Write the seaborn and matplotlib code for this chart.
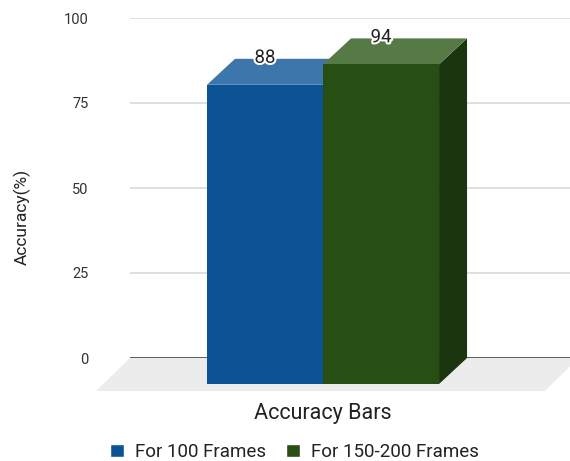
import matplotlib
matplotlib.use("Agg")
import matplotlib.pyplot as plt
import matplotlib.transforms as mtransforms
import matplotlib.patheffects as pe
from matplotlib.patches import Polygon
import pandas as pd
import seaborn as sns

# ---- data ----
categories = ["Accuracy Bars"]
series = ["For 100 Frames", "For 150-200 Frames"]
accuracy = [88, 94]
y_ticks = [0, 25, 50, 75, 100]

# face colours for the pseudo-3D boxes
front_colors = ["#0b5394", "#274e13"]
top_colors = ["#3c76aa", "#557a46"]
side_colors = ["#083b6b", "#1b350f"]

sns.set_theme(style="white")
plt.rcParams["font.family"] = ["Roboto", "DejaVu Sans"]

DPI = 100
W, H = 570, 461
DX, DY = 28, 26          # depth of the boxes, in pixels
FLOOR_DX, FLOOR_DY = 34, 33

fig = plt.figure(figsize=(W / DPI, H / DPI), dpi=DPI, facecolor="white")
# back wall: gridlines and value axis live here
ax = fig.add_axes([130 / W, 103 / H, 440 / W, 340 / H])

df = pd.DataFrame({
    "category": categories * len(series),
    "series": series,
    "accuracy": accuracy,
})
sns.barplot(data=df, x="category", y="accuracy", hue="series",
            palette=front_colors, saturation=1, width=0.8,
            errorbar=None, ax=ax)
bars = list(ax.patches)

ax.set_xlim(-0.762, 0.755)
ax.set_ylim(0, 100)

# legend handles from seaborn, re-laid out below the chart
leg = ax.get_legend()
handles = leg.legend_handles
labels = [t.get_text() for t in leg.get_texts()]
leg.remove()

# pixel depth expressed in data units
p0 = ax.transData.transform((0, 0))
p1 = ax.transData.transform((1, 1))
ddx = DX / (p1[0] - p0[0])
ddy = DY / (p1[1] - p0[1])

# floor of the box
floor = Polygon([(0, 0), (1.02, 0),
                 (1.02 - FLOOR_DX / 440, -FLOOR_DY / 340),
                 (-FLOOR_DX / 440, -FLOOR_DY / 340)],
                closed=True, transform=ax.transAxes, facecolor="#ececec",
                edgecolor="none", clip_on=False, zorder=0.5)
ax.add_patch(floor)

ax.axhline(0, color="#3a3a3a", lw=1.1, zorder=1.5)

for i, (bar, val) in enumerate(zip(bars, accuracy)):
    x0 = bar.get_x()
    w = bar.get_width()
    h = bar.get_height()
    z = 2 + i
    side = Polygon([(x0 + w - ddx, -ddy), (x0 + w, 0), (x0 + w, h),
                    (x0 + w - ddx, h - ddy)], closed=True,
                   facecolor=side_colors[i], edgecolor="none",
                   clip_on=False, zorder=z)
    top = Polygon([(x0 - ddx, h - ddy), (x0 + w - ddx, h - ddy),
                   (x0 + w, h), (x0, h)], closed=True,
                  facecolor=top_colors[i], edgecolor="none",
                  clip_on=False, zorder=z)
    ax.add_patch(side)
    ax.add_patch(top)
    # front face: the seaborn bar pushed forward
    bar.set_x(x0 - ddx)
    bar.set_y(-ddy)
    bar.set_clip_on(False)
    bar.set_edgecolor("none")
    bar.set_linewidth(0)
    bar.set_zorder(z + 0.5)

    lab_tr = ax.transData + mtransforms.ScaledTranslation(0, -4 / DPI, fig.dpi_scale_trans)
    ax.text(x0 + w / 2 - ddx, val, f"{val}", transform=lab_tr,
            ha="center", va="baseline", fontsize=13.4, color="#222222",
            zorder=10, clip_on=False,
            path_effects=[pe.withStroke(linewidth=3, foreground="white")])

# axes styling
for s in ax.spines.values():
    s.set_visible(False)
ax.set_yticks(y_ticks)
ax.yaxis.grid(True, color="#d9d9d9", lw=1.2)
ax.xaxis.grid(False)
ax.set_axisbelow(True)
ax.tick_params(axis="y", length=0, pad=30, labelsize=10.5, labelcolor="#333333")
ax.set_xticks([])
ax.set_xlabel("")
ax.set_ylabel("")

# category label, aligned with the front of the boxes
front_x = ax.transData + mtransforms.ScaledTranslation(-DX / DPI, 0, fig.dpi_scale_trans)
cat_tr = mtransforms.blended_transform_factory(front_x, fig.transFigure)
ax.text(0, 1 - 413 / H, categories[0], transform=cat_tr, ha="center",
        va="center", fontsize=15.5, color="#222222", clip_on=False)

fig.text(22 / W, 1 - 217 / H, "Accuracy(%)", rotation=90, ha="center",
         va="center", fontsize=12.5, color="#222222")

fig.legend(handles, labels, loc="center", bbox_to_anchor=(294.5 / W, 1 - 452 / H),
           ncol=2, frameon=False, fontsize=13.5, handlelength=0.7,
           handleheight=0.7, handletextpad=0.6, columnspacing=1.1,
           borderaxespad=0, borderpad=0, labelcolor="#222222")

fig.savefig("out.png", dpi=DPI, facecolor="white")
